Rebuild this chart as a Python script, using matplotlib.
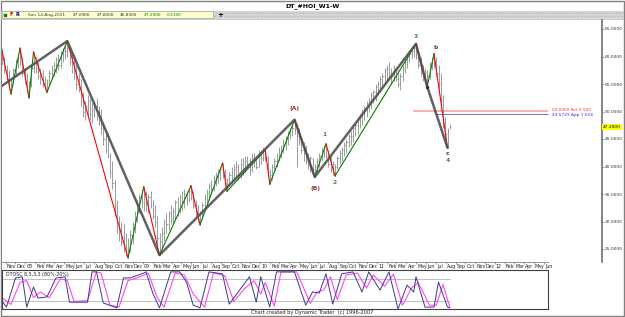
import matplotlib
matplotlib.use('Agg')
import matplotlib.pyplot as plt
import matplotlib.transforms as mtransforms
from matplotlib.patches import Rectangle
import numpy as np
import pandas as pd

# weekly bars, oldest first (last bar = Sun 14-Aug-2011)
lows = [58.5, 57, 55.5, 54, 53.2, 55, 56.5, 58, 58.5, 56.5, 55, 53.5, 52.5, 54.5, 57,
        57, 56, 55, 54.5, 54, 53.5,
        55, 56, 56.5, 57, 57.5, 58, 59, 59.5, 60,
        58.5, 57, 56, 54, 53.5, 51, 49, 48.5, 49, 48.5,
        48, 49, 48.5, 47.5, 46, 44, 42.5, 41.5, 38, 36,
        31, 28, 26.5, 25.5, 24.5, 23.8, 23.4,
        24.5, 26, 28, 30, 31.5, 32.5, 32,
        32, 31.5, 32.5, 30.5, 29, 26, 23.9,
        25, 26.5, 28, 28.5, 29.5, 29.5, 30.5, 31, 31.5, 32, 32.5, 33, 33.5, 34,
        32.5, 31, 30, 29.4,
        30.5, 32, 33, 34, 35, 35.5, 36.5, 37, 37.5, 38,
        36.5, 35.5,
        36.5, 37, 37.5, 38, 37.5, 38, 38.5, 39, 39.5, 38.5, 39, 40, 39.5, 40, 40.5, 41, 41,
        38.5, 36.8,
        37.5, 39, 40, 41, 41.5, 42.5, 43, 44, 45, 45.5, 46,
        40, 44, 42.5, 41, 40.5, 39.5, 39, 38.5, 38.1,
        39, 40, 41, 41.5, 41.5,
        40, 39, 38.5, 38.3,
        39.5, 40.5, 41, 42, 42.5, 43.5, 44, 44.5, 45.5, 46, 47, 47.5, 48.5, 49, 50, 50.5,
        51.5, 52, 53, 53.5, 54.5, 55, 55.5, 56, 55, 55.5, 55.5, 54.5, 54, 55.5, 57, 58,
        59, 59.5, 60, 59.5,
        58, 56.5, 55.5, 55, 54.5,
        56, 57.5, 58,
        56.5, 54, 51, 47, 45, 43.4, 46.83]
highs = [61.5, 60, 58.5, 57.5, 56, 58, 59.5, 60.5, 61.5, 60, 58, 57, 55.5, 58.5, 60.8,
         60, 59, 58, 57.5, 56.5, 56,
         57.5, 58.5, 59, 60, 60.5, 61, 61.5, 62, 62.8,
         62, 61, 60.5, 58.5, 57, 56, 53.5, 52, 53, 52.5,
         51.5, 52, 52.5, 51, 50.5, 48, 46.5, 46, 42.5, 41,
         37.5, 34, 31, 30, 29.5, 28, 27,
         28.5, 30, 32, 34, 35, 36, 36.3,
         35.5, 35, 35.5, 34, 33, 31, 28,
         29, 30.5, 31.5, 32, 33, 32.5, 34, 34.5, 35, 35.5, 36, 35.5, 36.2, 36.5,
         35.5, 34, 33, 32,
         33.5, 35, 36, 37, 37.5, 38.5, 39, 39.5, 40, 40.6,
         39.5, 38,
         39, 40, 40.5, 41, 40.5, 41.5, 41.5, 42, 42, 41.5, 42.5, 42.5, 42, 43, 43, 43.5, 43,
         42, 39.5,
         40.5, 41.5, 42.5, 43.5, 44, 45, 45.5, 46.5, 47, 47.5, 48.5,
         48, 47, 45.5, 44.5, 44, 42.5, 42, 41.5, 40.5,
         41.5, 42.5, 43.5, 44, 44.1,
         43, 42, 41, 40.5,
         42, 43, 43.5, 44.5, 45, 46, 46.5, 47.5, 48, 49, 49.5, 50.5, 51, 52, 52.5, 53.5,
         54, 55, 55.5, 56.5, 57, 58, 58.5, 59, 58, 58.5, 58, 57.5, 57, 58.5, 59.5, 60.5,
         61, 61.8, 62, 62.3,
         61, 60, 58.5, 58, 57.5,
         59, 60, 60.5,
         60, 58.5, 57, 53, 49, 47, 47.8]
closes = [59.5, 57.5, 56, 55, 55.5, 57.5, 59, 60, 59, 57, 55.5, 54, 55, 58, 59,
          58, 56.5, 57, 55, 54.5, 55.5,
          57, 57.5, 58.5, 59.5, 58.5, 60.5, 61, 61, 61.5,
          59, 60, 57, 55, 56, 52, 50, 51, 52, 49.5,
          50.5, 51, 49, 50, 47, 45, 43, 42, 39, 37,
          33, 29, 28, 26.5, 27, 25, 26,
          27.5, 29.5, 31, 33, 34.5, 33.5, 35,
          33, 34.5, 33, 31, 30, 27, 26.5,
          28, 30, 29.5, 31.5, 30.5, 32, 33.5, 32.5, 34.5, 33.5, 35, 34, 35.5, 34.5,
          33, 32, 30.5, 31.5,
          33, 34.5, 35, 36.5, 36, 38, 37.5, 39, 39.5, 39,
          37, 37.5,
          38.5, 38, 39.5, 40, 38.5, 40.5, 39.5, 41, 40.5, 39.5, 41.5, 41, 40, 42, 41.5, 42.5, 41.5,
          39, 38.5,
          40, 41, 42, 42.5, 43.5, 44, 45, 46, 46.5, 47, 47.5,
          45.5, 44.5, 43, 43.5, 41, 40.5, 41.5, 39.5, 40,
          41, 42, 43, 42.5, 42,
          40.5, 39.5, 40.5, 40,
          41.5, 42.5, 43, 44, 44.5, 45.5, 45.5, 47, 47.5, 48.5, 49, 50, 50.5, 51.5, 52, 53,
          53.5, 54.5, 55, 56, 56.5, 57.5, 58, 57, 56.5, 58, 56, 55, 56.5, 58, 59, 60,
          60.5, 61, 61.5, 60,
          58.5, 57, 56, 57, 56.5,
          58.5, 59.5, 59,
          57, 55, 52, 48, 46, 46.5, 47.2]

# swing lines (bar index, price)
swing_idx = [0, 4, 8, 12, 14, 20, 29, 56, 63, 70, 84, 88, 98, 100, 117, 119, 130,
             139, 144, 148, 184, 189, 192, 198]
swing_px = [61, 53.2, 61.5, 52.5, 60.8, 53.5, 62.8, 23.4, 36.3, 23.9, 36.5, 29.4, 40.6,
            35.5, 43, 36.8, 48.5, 38.1, 44.1, 38.3, 62.3, 54.5, 60.5, 43.4]
wave_idx = [-1, 29, 70, 130, 139, 184, 189, 198]
wave_px = [54.4, 62.8, 23.9, 48.5, 38.1, 62.3, 54.5, 43.4]

# DTOSC 8,5,3,3
fast_idx = [0, 2, 6, 9, 11, 14, 16, 20, 24, 28, 30, 38, 40, 42, 45, 51, 54, 57, 63, 64,
            67, 70, 75, 79, 82, 85, 88, 92, 98, 101, 106, 110, 113, 115, 119, 122, 130,
            135, 138, 141, 144, 147, 151, 156, 160, 163, 168, 172, 176, 180, 183, 184,
            188, 192, 194, 198, 199]
fast_val = [21, 5, 82, 85, 5, 58, 29, 32, 82, 85, 18, 18, 98, 98, 16, 3, 82, 82, 95, 98,
            42, 3, 98, 98, 71, 10, 3, 98, 93, 13, 53, 85, 18, 85, 5, 98, 98,
            10, 45, 42, 93, 13, 93, 98, 45, 98, 50, 98, 0, 63, 45, 85,
            5, 5, 71, 5, 3]
slow_idx = [0, 4, 8, 11, 14, 17, 21, 26, 29, 32, 38, 42, 44, 48, 52, 56, 60, 65, 69, 72,
            77, 81, 85, 90, 94, 99, 103, 108, 112, 115, 117, 121, 124, 131, 137, 140, 143,
            146, 149, 153, 158, 162, 165, 170, 174, 178, 182, 185, 190, 193, 196, 199]
slow_val = [30, 12, 70, 75, 30, 45, 30, 80, 75, 20, 22, 98, 95, 10, 5, 75, 82, 95, 30, 5,
            95, 90, 40, 5, 95, 88, 20, 55, 75, 40, 70, 8, 98, 98, 15, 45, 50,
            85, 25, 90, 95, 55, 90, 60, 92, 10, 55, 70, 10, 10, 65, 5]

# month axis labels
month_starts = pd.date_range('2007-11-01', '2012-06-01', freq='MS')

W, H = 625, 317
n = len(closes)
last_date = pd.Timestamp('2011-08-14')
start_date = last_date - pd.Timedelta(weeks=n - 1)
idx = np.arange(n)


def rect(l, t, r, b):
    return [l / W, 1 - b / H, (r - l) / W, (b - t) / H]


fig = plt.figure(figsize=(W / 100, H / 100), dpi=100)
fig.patch.set_facecolor('white')

# window chrome: title, info bar, footer
bg = fig.add_axes([0, 0, 1, 1])
bg.set_xlim(0, W)
bg.set_ylim(H, 0)
bg.axis('off')
bg.add_patch(Rectangle((0.5, 0.5), W - 2, H - 2, fill=False, ec='#808080', lw=1))
bg.text(312, 6.5, 'DT_#HOI_W1-W', fontsize=4.5, fontweight='bold', ha='center', va='center')
bg.add_patch(Rectangle((1, 10.5), W - 3, 8, fc='#d8d8d8', ec='#c0c0c0', hatch='.....', lw=0.4))
bg.add_patch(Rectangle((2, 11), 211, 7, fc='#ffffcc', ec='#a0a0a0', lw=0.5))
bg.plot([5], [14.5], 's', ms=1.5, color='#008000')
bg.text(9.5, 14.6, 'F', color='#cc0000', fontsize=3.6, fontweight='bold', va='center')
bg.text(15.5, 14.6, 'R', color='#000099', fontsize=3.6, fontweight='bold', va='center')
info = [(28, 'Sun 14-Aug-2011', '#333333'), (73, '47.0900', '#333333'),
        (97, '47.8000', '#333333'), (120, '46.8300', '#333333'),
        (144, '47.2000', '#008000'), (167, '0.3100', '#008000')]
for x0, s, c in info:
    bg.text(x0, 14.6, s, color=c, fontsize=3.1, va='center')
bg.text(220, 14.6, '+', fontsize=5, fontweight='bold', ha='center', va='center')
bg.text(312, 312.5, 'Chart created by Dynamic Trader  (c) 1996-2007', fontsize=3.6,
        ha='center', va='center', color='#222222')

# price chart
ax = fig.add_axes(rect(2, 20, 602, 262))
ax.set_xlim(0, 600 / 2.25)
ax.set_ylim(65 - (262 - 29) / 5.5, 65 + (29 - 20) / 5.5)
for s in ['top', 'bottom', 'left']:
    ax.spines[s].set_visible(False)
ax.spines['right'].set_color('#707070')
ax.spines['right'].set_linewidth(1.2)
ax.set_xticks([])
ax.yaxis.tick_right()
ax.set_yticks(np.arange(25, 66, 5))
ax.set_yticklabels([f'{v:.4f}' for v in np.arange(25, 66, 5)])
ax.tick_params(axis='y', length=1.5, width=0.5, pad=0.6, labelsize=3.2, colors='#707070',
               labelcolor='#333333')

ax.vlines(idx, lows, highs, color='#8c8c8c', lw=0.6, zorder=2)
ax.hlines(closes, idx, idx + 0.6, color='#8c8c8c', lw=0.6, zorder=2)

for k in range(len(swing_idx) - 1):
    up = swing_px[k + 1] > swing_px[k]
    ax.plot(swing_idx[k:k + 2], swing_px[k:k + 2], color='#008000' if up else '#ff0000',
            lw=0.8, zorder=3)
ax.plot(wave_idx, wave_px, color='#505050', lw=1.8, alpha=0.9, zorder=4,
        solid_capstyle='round', solid_joinstyle='round')

# retracement levels
ax.hlines(50.09, 182.7, 242.7, color='#ff9999', lw=1.1, zorder=1)
ax.hlines(49.5729, 193, 242.7, color='#5555ff', lw=0.6, zorder=1)
ax.text(244.5, 50.25, '50.0900 Ret 0.500', color='#ff3333', fontsize=3.1, va='center')
ax.text(244.5, 49.35, '49.5729 App 1.618', color='#3333ff', fontsize=3.1, va='center')

trans = mtransforms.blended_transform_factory(ax.transAxes, ax.transData)
ax.text(1.002, closes[-1], '47.2000', transform=trans, fontsize=3.2, va='center', ha='left',
        bbox=dict(boxstyle='square,pad=0.2', fc='#ffff00', ec='none'), zorder=6)

wave_labels = [(130.2, 50.6, '(A)', '#993333'), (139.4, 36.0, '(B)', '#993333'),
               (143.3, 45.9, '1', '#339933'), (147.6, 37.1, '2', '#339933'),
               (184, 63.6, '3', '#339966'), (192.8, 61.6, 'b', '#444444'),
               (198.2, 42.4, 'c', '#444444'), (198.2, 41.1, '4', '#339933')]
for xi, yp, s, c in wave_labels:
    ax.text(xi, yp, s, color=c, fontsize=4.3, fontweight='bold', ha='center', va='center')
ax.plot([189], [54.5], 'o', ms=1.5, color='#333333', zorder=5)

# month row
tx = fig.add_axes(rect(2, 262, 548, 270))
tx.set_xlim(0, 546 / 2.25)
tx.set_ylim(0, 1)
tx.set_xticks([])
tx.set_yticks([])
for s in ['bottom', 'left', 'right']:
    tx.spines[s].set_visible(False)
tx.spines['top'].set_color('#808080')
tx.spines['top'].set_linewidth(0.6)
mpos = (month_starts - start_date).days / 7.0
tx.vlines(mpos, 0.7, 1.0, color='#808080', lw=0.5)
for p, d in zip(mpos, month_starts):
    lab = d.strftime('%y') if d.month == 1 else d.strftime('%b')
    tx.text(p + 0.5, 0.42, lab, fontsize=3.4, ha='left', va='center', color='#222222')

# oscillator panel
ox = fig.add_axes(rect(2, 270, 548, 309))
ox.set_xlim(0, 546 / 2.25)
ox.set_ylim(0, 103)
ox.set_xticks([])
ox.set_yticks([])
for s in ox.spines.values():
    s.set_color('#404040')
    s.set_linewidth(0.8)
ox.hlines([80, 20], 0, n - 1, color='#b4b4b4', lw=0.6)
ox.plot(slow_idx, slow_val, color='#ff44ff', lw=0.8)
ox.plot(fast_idx, fast_val, color='#3a3a8c', lw=0.7)
ox.text(2, 92, 'DTOSC 8,5,3,3 (80%-20%)', fontsize=3.4, va='center', color='#222222')

fig.savefig('out.png', dpi=100, facecolor='white')
